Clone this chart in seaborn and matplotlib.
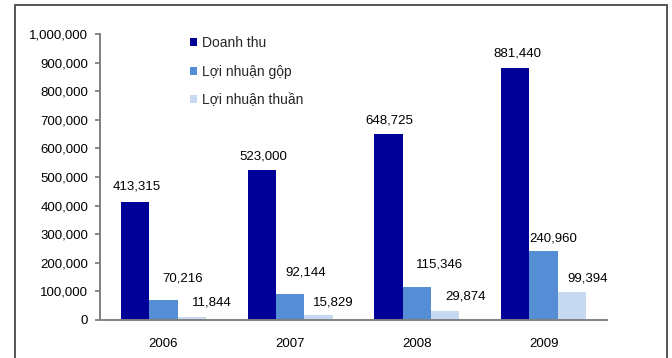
import matplotlib
matplotlib.use("Agg")
import matplotlib.pyplot as plt
from matplotlib.patches import Rectangle
from matplotlib.ticker import FuncFormatter, FixedLocator
import numpy as np
import pandas as pd
import seaborn as sns

# Revenue and profit by year
years = ["2006", "2007", "2008", "2009"]
series_names = ["Doanh thu", "Lợi nhuận gộp", "Lợi nhuận thuần"]
doanh_thu = [413315, 523000, 648725, 881440]
loi_nhuan_gop = [70216, 92144, 115346, 240960]
loi_nhuan_thuan = [11844, 15829, 29874, 99394]
y_ticks = [0, 100000, 200000, 300000, 400000, 500000, 600000, 700000, 800000, 900000, 1000000]

colors = ["#000099", "#558ED5", "#C6D9F1"]

# Label placement (pixel offsets from each bar's top centre)
label_offsets = {
    "Doanh thu": [(1.5, 15), (1.5, 14), (1, 14), (2.5, 14)],
    "Lợi nhuận gộp": [(19, 21), (16, 21), (23, 23), (10, 13)],
    "Lợi nhuận thuần": [(20, 14), (15, 13), (20, 14.5), (16, 13)],
}

values = [doanh_thu, loi_nhuan_gop, loi_nhuan_thuan]
df = pd.DataFrame(
    [(y, s, v) for s, vals in zip(series_names, values) for y, v in zip(years, vals)],
    columns=["Năm", "Chỉ tiêu", "Giá trị"],
)

sns.set_theme(style="white")
plt.rcParams["font.family"] = ["Liberation Sans", "DejaVu Sans"]

W, H = 672, 358
fig = plt.figure(figsize=(W / 100, H / 100), dpi=100)
ax = fig.add_axes([100 / W, 1 - 320 / H, 507 / W, 286 / H])

sns.barplot(
    data=df, x="Năm", y="Giá trị", hue="Chỉ tiêu", order=years,
    hue_order=series_names, palette=colors, width=0.67, gap=0,
    saturation=1, linewidth=0, ax=ax, legend=True,
)

# Value labels
for container, name in zip(ax.containers, series_names):
    for bar, (dx, dy) in zip(container, label_offsets[name]):
        h = bar.get_height()
        ax.annotate(
            f"{int(round(h)):,}",
            xy=(bar.get_x() + bar.get_width() / 2, h),
            xytext=(dx, dy), textcoords="offset pixels",
            ha="center", va="center", fontsize=9.5, color="black",
        )

ax.set_xlim(-0.5, len(years) - 0.5)
ax.set_ylim(0, 1000000)
ax.yaxis.set_major_locator(FixedLocator(y_ticks))
ax.yaxis.set_major_formatter(FuncFormatter(lambda v, p: f"{int(v):,}"))
ax.set_xlabel("")
ax.set_ylabel("")

# Category labels centred, tick marks on category boundaries
ax.set_xticks(range(len(years)))
ax.set_xticklabels(years)
ax.set_xticks(np.arange(-0.5, len(years)), minor=True)
ax.tick_params(axis="x", which="major", length=0, pad=13, labelsize=9.5, colors="black")
ax.tick_params(axis="x", which="minor", length=3.5, width=1.3, color="#808080", direction="out")
ax.tick_params(axis="y", which="major", length=3.5, width=1.3, color="#808080",
               direction="out", pad=5, labelsize=9.5, labelcolor="black", left=True)

for side in ["top", "right"]:
    ax.spines[side].set_visible(False)
for side in ["left", "bottom"]:
    ax.spines[side].set_color("#808080")
    ax.spines[side].set_linewidth(1.4)

leg = ax.legend(
    loc="upper left", bbox_to_anchor=(190 / W, 1 - 36 / H),
    bbox_transform=fig.transFigure, frameon=False, fontsize=10,
    handlelength=0.5, handleheight=0.5, handletextpad=0.4,
    labelspacing=1.05, borderpad=0, borderaxespad=0,
)

# Outer chart frame
fig.patches.append(Rectangle(
    (15 / W, -0.05), 652 / W, (H - 5) / H + 0.05,
    transform=fig.transFigure, fill=False, edgecolor="#555555", linewidth=1.4,
))

fig.savefig("out.png", dpi=100, facecolor="white")
